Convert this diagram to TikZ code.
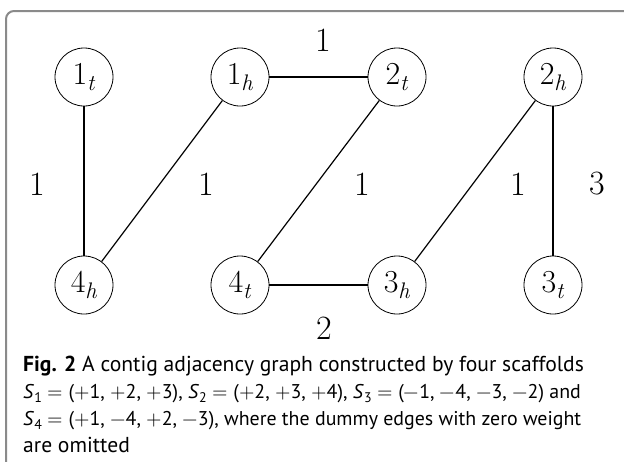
\documentclass[tikz,border=0pt]{standalone}
\usepackage{fontspec}
\usepackage{unicode-math}
\newfontfamily\capfont{PT Sans}
\definecolor{framegray}{HTML}{8A8A8A}
\newcommand\scaf[1]{\textit{S}\textsubscript{#1}~$=$~}
\newcommand\sgp{$+$}
\newcommand\sgm{$-$}
\newcommand\cend[2]{#1\raisebox{-0.2em}{\fontsize{22.5}{24}\selectfont\textit{#2}}}
\begin{document}
\begin{tikzpicture}[x=1pt,y=-1pt,
				contig/.style={circle,draw,line width=0.8pt,minimum size=58pt,inner sep=0pt,
					font=\fontsize{32}{36}\selectfont},
				weight/.style={inner sep=0pt,font=\fontsize{34}{38}\selectfont},
				adj/.style={line width=1.2pt},
				capline/.style={anchor=base west,inner sep=0pt,font=\capfont\fontsize{21.6}{27}\selectfont},
				capmath/.style={capline,font=\capfont\fontsize{19.9}{27}\selectfont}]
\useasboundingbox (0,0) rectangle (624,461);
\clip (0,0) rectangle (624,461);
\draw[framegray,line width=2pt,rounded corners=8pt] (6,11) rectangle (680,520);
% contig ends
\node[contig] (n1t) at (84,77) {\cend{1}{t}};
\node[contig] (n1h) at (240,77) {\cend{1}{h}};
\node[contig] (n2t) at (397,77) {\cend{2}{t}};
\node[contig] (n2h) at (553,77) {\cend{2}{h}};
\node[contig] (n4h) at (84,285) {\cend{4}{h}};
\node[contig] (n4t) at (240,285) {\cend{4}{t}};
\node[contig] (n3h) at (397,285) {\cend{3}{h}};
\node[contig] (n3t) at (553,285) {\cend{3}{t}};
% adjacencies
\draw[adj] (n1t) -- (n4h);
\draw[adj] (n1h) -- (n4h);
\draw[adj] (n1h) -- (n2t);
\draw[adj] (n2t) -- (n4t);
\draw[adj] (n4t) -- (n3h);
\draw[adj] (n2h) -- (n3h);
\draw[adj] (n2h) -- (n3t);
% weights
\node[weight] (w1) at (37,184) {1};
\node[weight] (w2) at (206,184) {1};
\node[weight] (w3) at (323,40) {1};
\node[weight] (w4) at (362,184) {1};
\node[weight] (w5) at (324,328) {2};
\node[weight] (w6) at (518,184) {1};
\node[weight] (w7) at (597,184) {3};
% caption
\node[capline] (cap1) at (23,371) {\textbf{Fig. 2} A contig adjacency graph constructed by four scaffolds};
\node[capmath] (cap2) at (23,398) {\scaf{1}(\sgp1, \sgp2, \sgp3), \scaf{2}(\sgp2, \sgp3, \sgp4), \scaf{3}(\sgm1, \sgm4, \sgm3, \sgm2) and};
\node[capmath] (cap3) at (23,425) {\scaf{4}(\sgp1, \sgm4, \sgp2, \sgm3), where the dummy edges with zero weight};
\node[capline] (cap4) at (23,452) {are omitted};
\end{tikzpicture}
\end{document}
